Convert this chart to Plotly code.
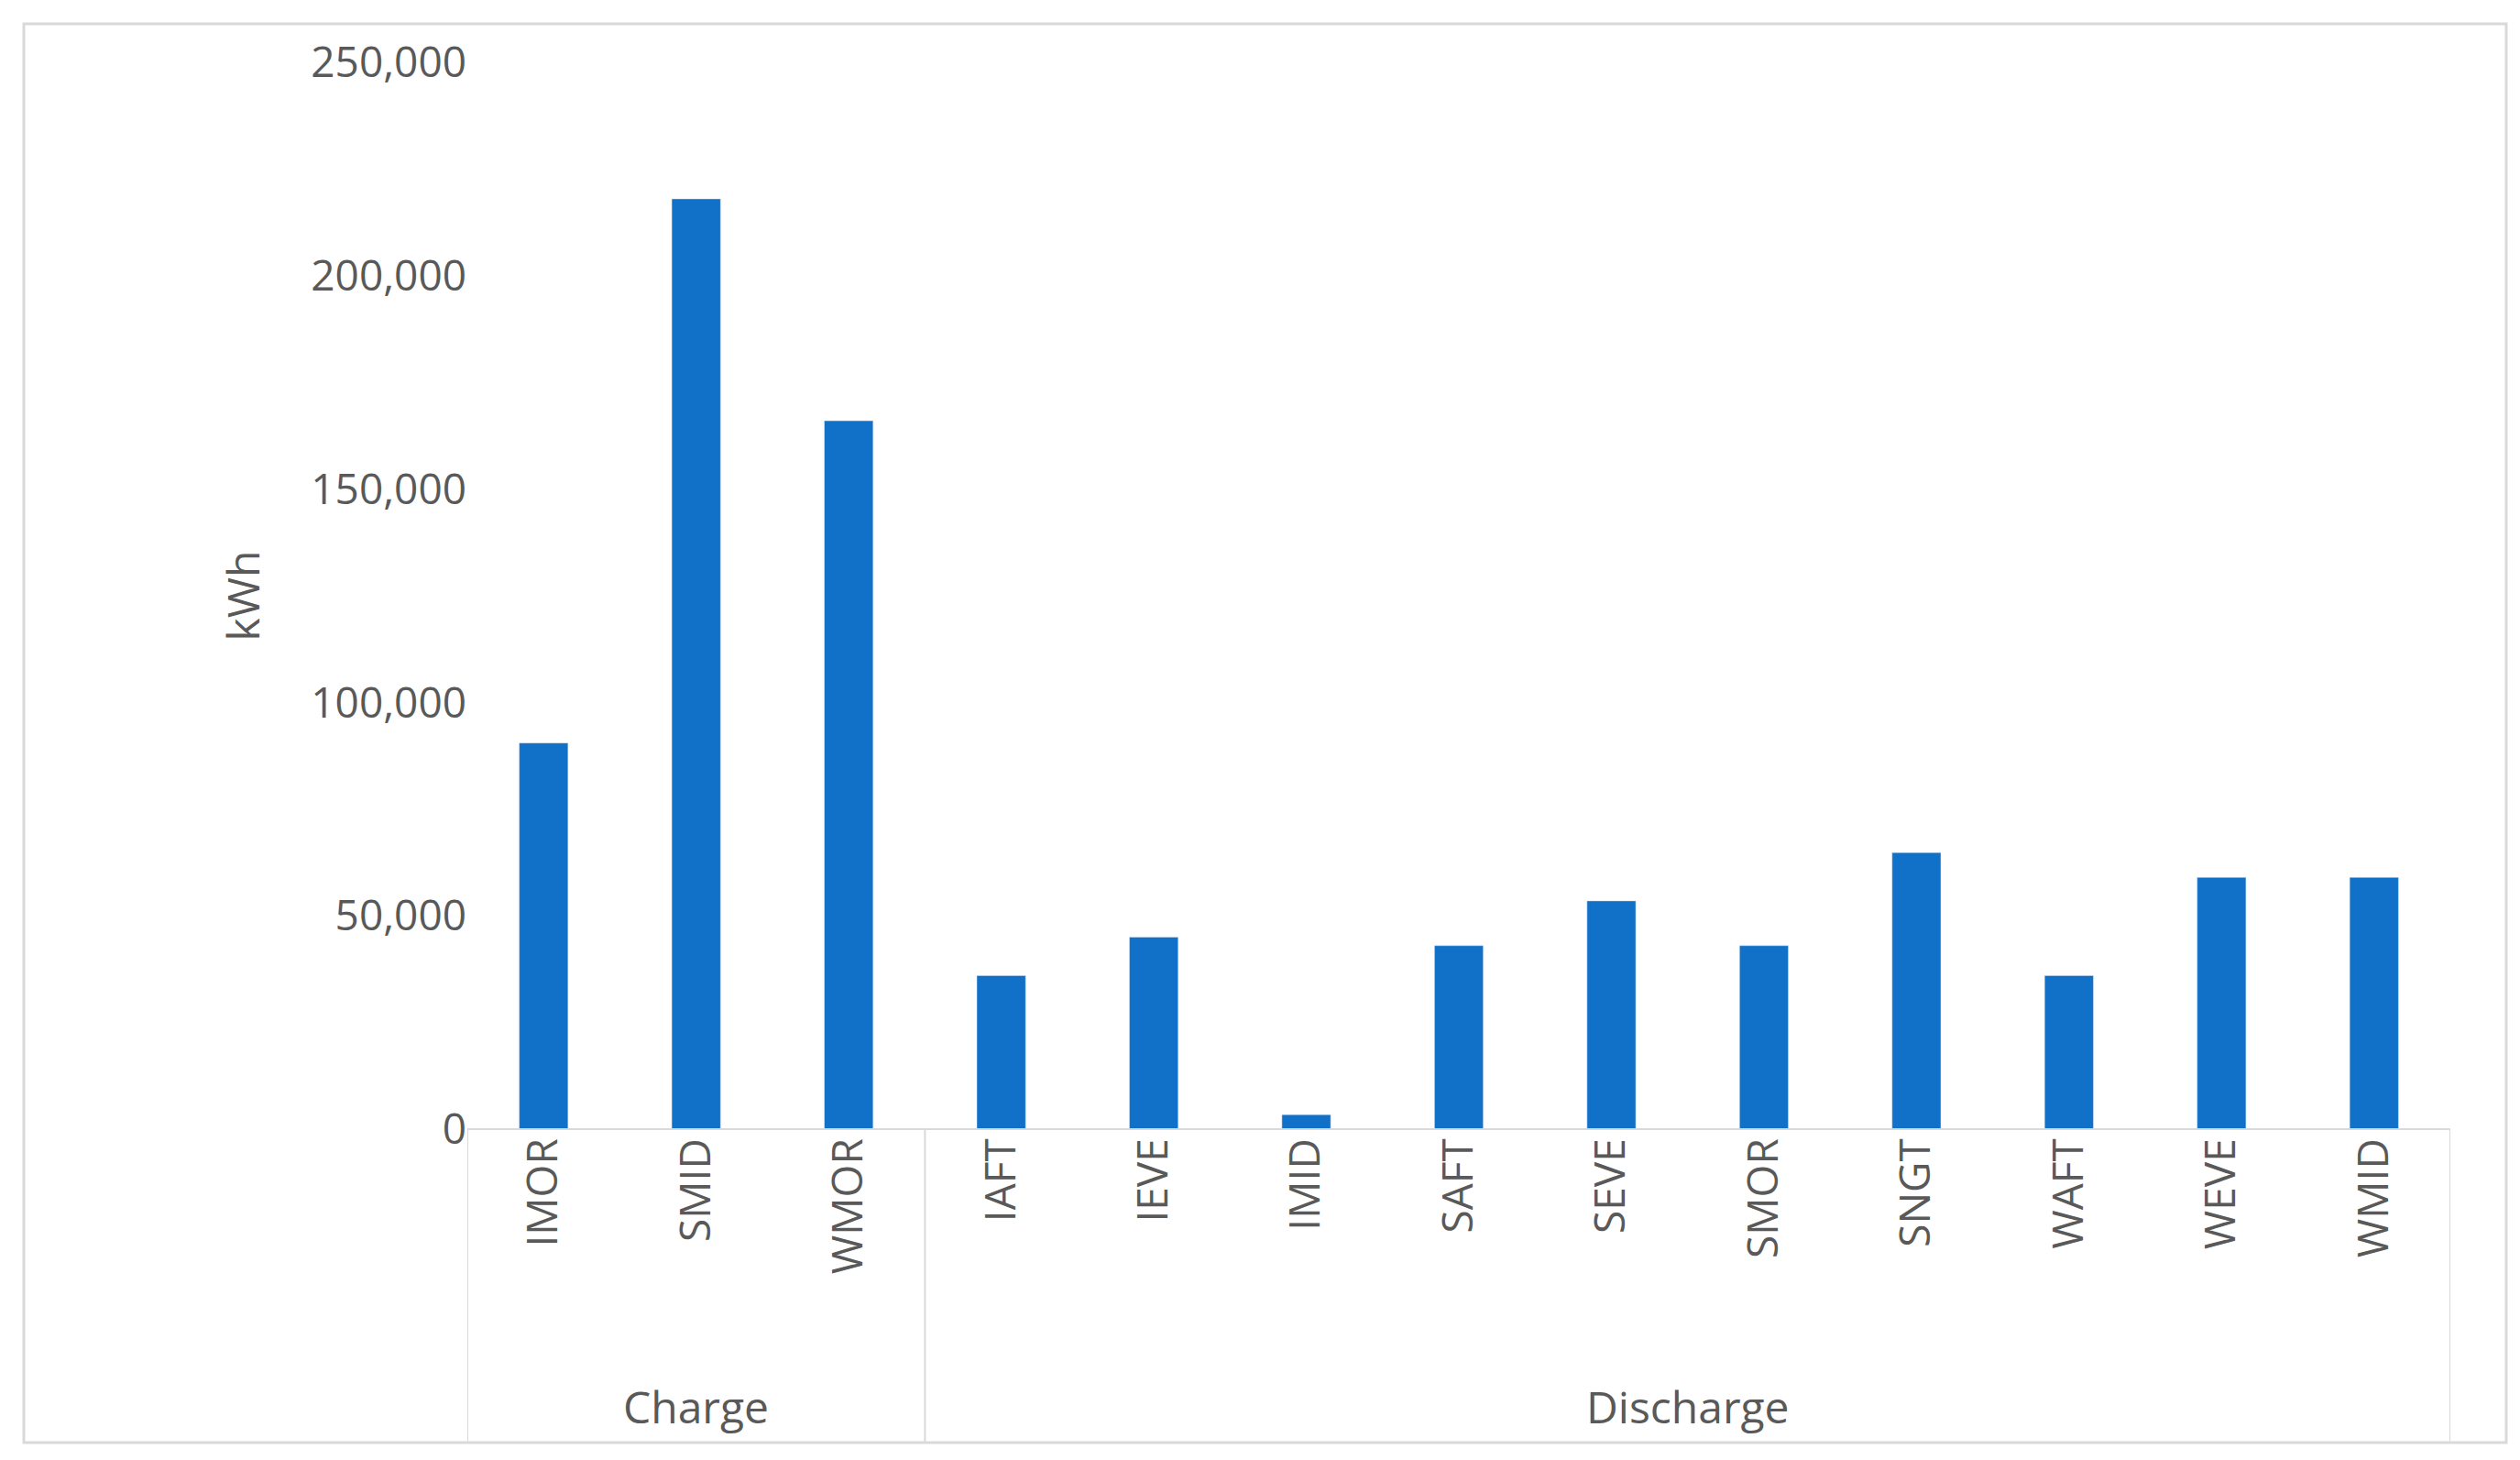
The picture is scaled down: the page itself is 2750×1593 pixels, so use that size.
import plotly.graph_objects as go

categories = ["IMOR","SMID","WMOR","IAFT","IEVE","IMID","SAFT","SEVE","SMOR","SNGT","WAFT","WEVE","WMID"]
values = [90500, 218000, 166000, 36000, 45000, 3400, 43000, 53500, 43000, 64800, 36000, 59000, 59000]
groups = [("Charge", 0, 2), ("Discharge", 3, 12)]
yticks = [0, 50000, 100000, 150000, 200000, 250000]

W, H = 2750, 1593
L, R, T, B = 502, 84, 60, 369
pw, ph = W - L - R, H - T - B
gray = "#595959"
lc = "#d9d9d9"

def px(x): return (x - L) / pw
def py(y): return 1 - (y - T) / ph

fig = go.Figure(go.Bar(x=list(range(len(categories))), y=values, marker_color="#1170C8", width=0.32))

shapes = []
ybot = py(1566)
# group dividers
bounds = [-0.5, 2.5, 12.5]
for b in bounds:
    shapes.append(dict(type="line", xref="x", yref="paper", x0=b, x1=b, y0=0, y1=ybot, line=dict(color=lc, width=2)))
shapes.append(dict(type="line", xref="x", yref="paper", x0=-0.5, x1=12.5, y0=0, y1=0, line=dict(color=lc, width=2)))
shapes.append(dict(type="rect", xref="paper", yref="paper", x0=px(18), x1=px(2727), y0=py(18), y1=ybot, line=dict(color=lc, width=3)))

ann = []
for name, a, b in groups:
    ann.append(dict(x=(a + b) / 2, y=py(1526), xref="x", yref="paper", text=name, showarrow=False,
                    font=dict(size=48, color=gray), yanchor="middle"))

fig.update_layout(
    width=W, height=H, margin=dict(l=L, r=R, t=T, b=B),
    paper_bgcolor="white", plot_bgcolor="white",
    font=dict(family="Open Sans", color=gray),
    shapes=shapes, annotations=ann, showlegend=False,
    xaxis=dict(tickmode="array", tickvals=list(range(len(categories))), ticktext=categories,
               tickangle=-90, tickfont=dict(size=46, color=gray), range=[-0.5, 12.5],
               showgrid=False, ticks="", ticklen=0, showline=False, zeroline=False),
    yaxis=dict(range=[0, 250000], tickvals=yticks, tickformat=",", tickfont=dict(size=46, color=gray),
               showgrid=False, zeroline=False, showline=False, ticks="",
               title=dict(text="kWh", font=dict(size=48, color=gray), standoff=40)),
)
fig.write_html("out.html")
